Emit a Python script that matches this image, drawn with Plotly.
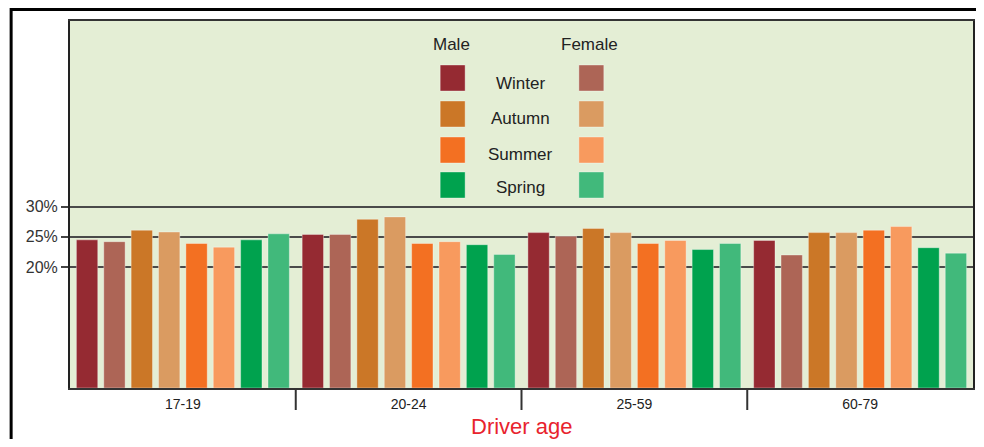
import plotly.graph_objects as go

# ---------------- data ----------------
ages = ["17-19", "20-24", "25-59", "60-79"]
seasons = ["Winter", "Autumn", "Summer", "Spring"]
genders = ["Male", "Female"]

male_winter = [24.5, 25.4, 25.7, 24.4]
female_winter = [24.2, 25.4, 25.1, 22.0]
male_autumn = [26.1, 27.9, 26.4, 25.7]
female_autumn = [25.8, 28.3, 25.7, 25.7]
male_summer = [23.9, 23.9, 23.9, 26.1]
female_summer = [23.3, 24.2, 24.4, 26.7]
male_spring = [24.5, 23.7, 22.9, 23.2]
female_spring = [25.5, 22.1, 23.9, 22.3]

y_tickvals = [20, 25, 30]
y_ticktext = ["20%", "25%", "30%"]
x_title = "Driver age"

# ---------------- styles ----------------
male_colors = {"Winter": "#952a32", "Autumn": "#cb7727", "Summer": "#f37022", "Spring": "#00a24e"}
female_colors = {"Winter": "#ad6556", "Autumn": "#da9b61", "Summer": "#f89a5e", "Spring": "#41b97b"}
outline = "rgba(255,255,255,0.35)"
FONT = "Liberation Sans, Arial, sans-serif"

series = [
    ("Male", "Winter", male_winter), ("Female", "Winter", female_winter),
    ("Male", "Autumn", male_autumn), ("Female", "Autumn", female_autumn),
    ("Male", "Summer", male_summer), ("Female", "Summer", female_summer),
    ("Male", "Spring", male_spring), ("Female", "Spring", female_spring),
]

OFF = 8  # page body margin offset
W, H = 984 - OFF, 447 - 2 * OFF
L, R, T, B = 70, 975, 21, 388  # plot area in page pixels


def px_x(px):
    return (px - L) / (R - L)


def px_y(py):
    return (B - py) / (B - T)


fig = go.Figure()
for g, s, vals in series:
    col = male_colors[s] if g == "Male" else female_colors[s]
    fig.add_trace(go.Bar(
        x=ages, y=vals, name=f"{g} {s}",
        marker=dict(color=col, line=dict(color=outline, width=1)),
        showlegend=False,
        hovertemplate=f"{g} {s}<br>%{{x}}: %{{y}}%<extra></extra>",
    ))

shapes = []
# category dividers below axis
for i in range(1, len(ages)):
    shapes.append(dict(type="line", xref="x", yref="paper", x0=i - 0.5, x1=i - 0.5,
                       y0=0, y1=px_y(410), line=dict(color="#333333", width=2)))
# outer frame (top and left edges visible)
shapes.append(dict(type="line", xref="paper", yref="paper",
                   x0=px_x(11), x1=px_x(1000), y0=px_y(9.5), y1=px_y(9.5),
                   line=dict(color="#000000", width=3)))
shapes.append(dict(type="line", xref="paper", yref="paper",
                   x0=px_x(11), x1=px_x(11), y0=px_y(8), y1=px_y(470),
                   line=dict(color="#000000", width=3)))

annotations = []
# custom legend
head_y = 44
LEG = 17
annotations.append(dict(text="Male", xref="paper", yref="paper", x=px_x(452), y=px_y(head_y),
                        showarrow=False, xanchor="center", yanchor="middle",
                        font=dict(family=FONT, size=LEG, color="#222222")))
annotations.append(dict(text="Female", xref="paper", yref="paper", x=px_x(591), y=px_y(head_y),
                        showarrow=False, xanchor="center", yanchor="middle",
                        font=dict(family=FONT, size=LEG, color="#222222")))
sq_tops = [65, 101, 137, 172]
label_ys = [83, 119, 154, 188]
for s, top, ly in zip(seasons, sq_tops, label_ys):
    shapes.append(dict(type="rect", xref="paper", yref="paper",
                       x0=px_x(441), x1=px_x(466), y0=px_y(top + 26), y1=px_y(top),
                       fillcolor=male_colors[s], line=dict(color=outline, width=1)))
    shapes.append(dict(type="rect", xref="paper", yref="paper",
                       x0=px_x(580), x1=px_x(605), y0=px_y(top + 26), y1=px_y(top),
                       fillcolor=female_colors[s], line=dict(color=outline, width=1)))
    annotations.append(dict(text=s, xref="paper", yref="paper", x=px_x(521), y=px_y(ly),
                            showarrow=False, xanchor="center", yanchor="middle",
                            font=dict(family=FONT, size=LEG, color="#222222")))

annotations.append(dict(text=x_title, xref="paper", yref="paper",
                        x=px_x(522), y=px_y(427), showarrow=False,
                        xanchor="center", yanchor="middle",
                        font=dict(family=FONT, size=22, color="#e8232d")))

fig.update_layout(
    width=W, height=H,
    margin=dict(l=L - OFF, r=W - (R - OFF), t=T - OFF, b=H - (B - OFF), pad=0),
    paper_bgcolor="#ffffff",
    plot_bgcolor="#e4eed5",
    barmode="group",
    bargap=0.03,
    bargroupgap=0.22,
    shapes=shapes,
    annotations=annotations,
    xaxis=dict(
        showline=True, linecolor="#333333", linewidth=2, mirror=True,
        ticks="outside", ticklen=2, tickcolor="rgba(0,0,0,0)",
        tickfont=dict(family=FONT, size=14, color="#222222"),
        showgrid=False, zeroline=False, fixedrange=True,
    ),
    yaxis=dict(
        range=[0, 60.7],
        tickvals=y_tickvals, ticktext=y_ticktext,
        showline=True, linecolor="#222222", linewidth=2, mirror=True,
        ticks="outside", ticklen=7, tickwidth=2, tickcolor="#444444",
        showgrid=True, gridcolor="#4a4a4a", gridwidth=2,
        zeroline=False,
        tickfont=dict(family=FONT, size=16, color="#333333"),
        fixedrange=True,
    ),
)

fig.write_html("out.html")
